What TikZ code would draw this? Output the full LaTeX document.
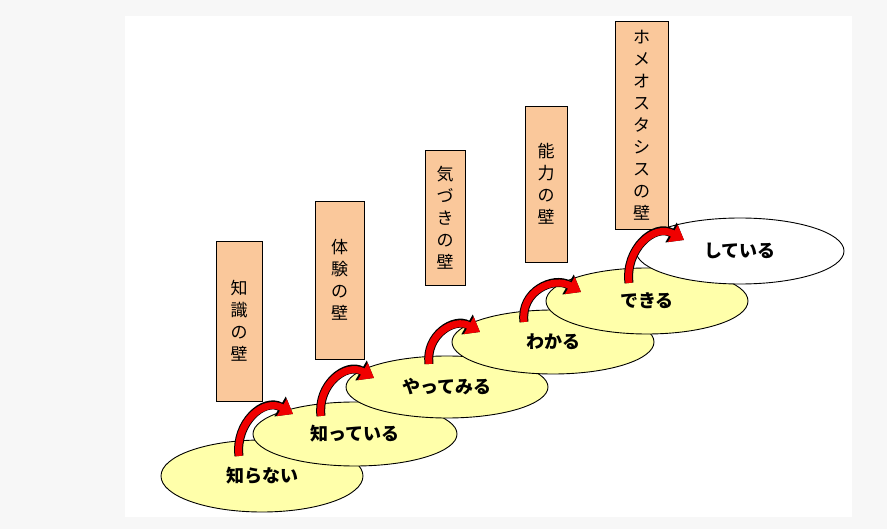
\documentclass[tikz,border=0pt]{standalone}
\usepackage{fontspec}
\setmainfont{Noto Sans CJK JP}
\usetikzlibrary{arrows.meta}
\definecolor{wallfill}{RGB}{250,200,155}
\definecolor{stepfill}{RGB}{255,255,170}
\definecolor{arrred}{RGB}{240,0,0}
\tikzset{
  x=1pt,y=-1pt,
  stagelabel/.style={font=\fontsize{18}{18}\selectfont\bfseries},
  wall/.style={draw=black,line width=0.9pt,fill=wallfill},
  walltext/.style={font=\fontsize{17}{22}\selectfont,align=center},
  uparrow/.style={line width=7pt,arrred,-{Triangle[width=19pt,length=13pt]},
     preaction={draw=black,line width=9pt,-{Triangle[width=22pt,length=15pt]}}},
}
\begin{document}
\begin{tikzpicture}
\useasboundingbox (0,0) rectangle (887,529);
\fill[gray!6] (0,0) rectangle (887,529);
\fill[white] (125,16) rectangle (852,517);
% ellipses
\foreach \n/\cx/\cy/\rx/\ry/\col/\txt in {
  e1/262/476/101/36/stepfill/知らない,
  e2/355/434/102/32/stepfill/知っている,
  e3/447/387/101/31/stepfill/やってみる,
  e4/553/342/101/32/stepfill/わかる,
  e5/647/301/101/33/stepfill/できる,
  e6/740/251/104/33/white/している}{
  \filldraw[fill=\col,draw=black,line width=0.9pt] (\cx,\cy) ellipse [x radius=\rx, y radius=\ry];
  \node[stagelabel] (\n) at (\cx,\cy) {\txt};
}
% walls
\filldraw[wall] (216,241) rectangle (262,401);
\node[walltext] (w1) at (239,321) {知\\識\\の\\壁};
\filldraw[wall] (315,201) rectangle (364,359);
\node[walltext] (w2) at (339.5,280) {体\\験\\の\\壁};
\filldraw[wall] (425,150) rectangle (465,285);
\node[walltext] (w3) at (445,217.5) {気\\づ\\き\\の\\壁};
\filldraw[wall] (525,106) rectangle (567,262);
\node[walltext] (w4) at (546,184) {能\\力\\の\\壁};
\filldraw[wall] (615,21) rectangle (668,229);
\node[walltext] (w5) at (641.5,125) {ホ\\メ\\オ\\ス\\タ\\シ\\ス\\の\\壁};
% arrows
\coordinate (t1) at (239,456); \coordinate (h1) at (293,414);
\coordinate (t2) at (321,416); \coordinate (h2) at (374,378);
\coordinate (t3) at (429,364); \coordinate (h3) at (480,332);
\coordinate (t4) at (524,322); \coordinate (h4) at (581,292);
\coordinate (t5) at (629,283); \coordinate (h5) at (684,240);
\foreach \i in {1,...,5}{
  \draw[uparrow] (t\i) to[out=97,in=150,looseness=1.25] (h\i);
}
\end{tikzpicture}
\end{document}
